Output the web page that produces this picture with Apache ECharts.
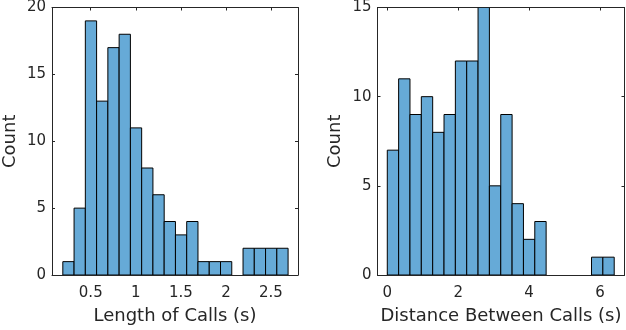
<!DOCTYPE html>
<html>
<head>
<meta charset="utf-8">
<script src="https://cdn.jsdelivr.net/npm/echarts@6/dist/echarts.min.js"></script>
<style>
html,body{margin:0;padding:0;background:#fff;}
#c{width:626px;height:330px;}
</style>
</head>
<body>
<div id="c"></div>
<script>
// Left panel: Length of Calls (s)
const lengthEdges = [0.19,0.315,0.44,0.565,0.69,0.815,0.94,1.065,1.19,1.315,1.44,1.565,1.69,1.815,1.94,2.065,2.19,2.315,2.44,2.565,2.69];
const lengthCounts = [1,5,19,13,17,18,11,8,6,4,3,4,1,1,1,0,2,2,2,2];
const lengthTicks = [0.5,1,1.5,2,2.5];

// Right panel: Distance Between Calls (s)
const distEdges = [0,0.32,0.64,0.96,1.28,1.6,1.92,2.24,2.56,2.88,3.2,3.52,3.84,4.16,4.48,4.8,5.12,5.44,5.76,6.08,6.4];
const distCounts = [7,11,9,10,8,9,12,12,15,5,9,4,2,3,0,0,0,0,1,1];
const distTicks = [0,2,4,6];

const countTicksLeft = [0,5,10,15,20];
const countTicksRight = [0,5,10,15];

const TXT = '#262626';
const FONT = 'DejaVu Sans';
const FILL = '#66AAD7';

function bins(edges, counts){
  const out = [];
  for (let i = 0; i < counts.length; i++) out.push([edges[i], edges[i+1], counts[i]]);
  return out;
}

function renderBar(params, api){
  const c = api.value(2);
  if (c <= 0) return null;
  const p0 = api.coord([api.value(0), c]);
  const p1 = api.coord([api.value(1), 0]);
  return {
    type: 'rect',
    shape: {x: p0[0], y: p0[1], width: p1[0]-p0[0], height: p1[1]-p0[1]},
    style: {fill: FILL, stroke: '#000', lineWidth: 1}
  };
}

function xAxes(gi, min, max, ticks, name){
  const common = {
    type: 'value', gridIndex: gi, min: min, max: max,
    splitLine: {show: false},
    axisLine: {show: true, onZero: false, lineStyle: {color: TXT, width: 1}},
    axisTick: {show: true, inside: true, length: 3, customValues: ticks, lineStyle: {color: TXT}},
  };
  return [
    Object.assign({}, common, {
      position: 'bottom',
      name: name, nameLocation: 'middle', nameGap: 32,
      nameTextStyle: {color: TXT, fontFamily: FONT, fontSize: 18},
      axisLabel: {show: true, customValues: ticks, color: TXT, fontFamily: FONT, fontSize: 15, margin: 11}
    }),
    Object.assign({}, common, {position: 'top', axisLabel: {show: false}})
  ];
}

function yAxes(gi, max, ticks){
  const common = {
    type: 'value', gridIndex: gi, min: 0, max: max, interval: 5,
    splitLine: {show: false},
    axisLine: {show: true, onZero: false, lineStyle: {color: TXT, width: 1}},
    axisTick: {show: true, inside: true, length: 3, lineStyle: {color: TXT}},
  };
  return [
    Object.assign({}, common, {
      position: 'left',
      name: 'Count', nameLocation: 'middle', nameGap: 33, nameRotate: 90,
      nameTextStyle: {color: TXT, fontFamily: FONT, fontSize: 18},
      axisLabel: {show: true, color: TXT, fontFamily: FONT, fontSize: 15, margin: 6}
    }),
    Object.assign({}, common, {position: 'right', axisLabel: {show: false}})
  ];
}

const chart = echarts.init(document.getElementById('c'), null, {renderer: 'canvas'});
chart.setOption({
  animation: false,
  backgroundColor: '#fff',
  grid: [
    {left: 50, right: 328, top: 7, bottom: 53},
    {left: 377.5, right: 1.5, top: 7, bottom: 53}
  ],
  xAxis: [].concat(
    xAxes(0, 0.07, 2.8, lengthTicks, 'Length of Calls (s)'),
    xAxes(1, -0.276, 6.69, distTicks, 'Distance Between Calls (s)')
  ),
  yAxis: [].concat(
    yAxes(0, 20, countTicksLeft),
    yAxes(1, 15, countTicksRight)
  ),
  series: [
    {type: 'custom', xAxisIndex: 0, yAxisIndex: 0, data: bins(lengthEdges, lengthCounts), renderItem: renderBar, encode: {x: [0,1], y: 2}, clip: true},
    {type: 'custom', xAxisIndex: 2, yAxisIndex: 2, data: bins(distEdges, distCounts), renderItem: renderBar, encode: {x: [0,1], y: 2}, clip: true}
  ]
});
</script>
</body>
</html>
